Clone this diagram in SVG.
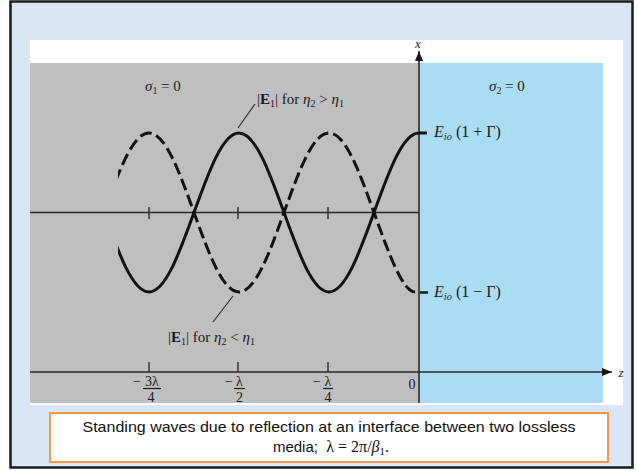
<svg xmlns="http://www.w3.org/2000/svg" width="637" height="471" viewBox="0 0 637 471">
  <style>
    .serif { font-family: "Liberation Serif", "DejaVu Serif", serif; fill: #1a1a1a; }
    .it { font-style: italic; }
    .axis { stroke: #2a2a2a; stroke-width: 1.6; fill: none; }
    .tick { stroke: #2a2a2a; stroke-width: 1.4; }
    .wave { stroke: #111; stroke-width: 3; fill: none; stroke-linecap: butt; }
    .dash { stroke-dasharray: 12 5; }
    .leader { stroke: #222; stroke-width: 1.1; }
    .cap { font-family: "Liberation Sans", "DejaVu Sans", sans-serif; font-size: 15px; fill: #111; }
  </style>
  <defs>
    <marker id="arr" viewBox="0 0 10 8" refX="10" refY="4" markerWidth="10" markerHeight="8" markerUnits="userSpaceOnUse" orient="auto">
      <path d="M0,0 L10,4 L0,8 z" fill="#1a1a1a"/>
    </marker>
    <clipPath id="waveclip">
      <rect x="118" y="100" width="320" height="220"/>
    </clipPath>
  </defs>

  <!-- slide background -->
  <rect x="0" y="0" width="637" height="471" fill="#ffffff"/>
  <rect id="frame" x="10.5" y="1.5" width="622" height="466" fill="#d9e6f4" stroke="#1c1c1c" stroke-width="2.5"/>

  <!-- figure panel -->
  <g id="panel">
    <rect x="30" y="40" width="593" height="365" fill="#ffffff"/>
    <rect id="medium1" x="30" y="63" width="389" height="340" fill="#bfbfbf"/>
    <rect id="medium2" x="419" y="63" width="184" height="340" fill="#aadcf4"/>
  </g>

  <!-- axes -->
  <g id="connectors">
    <line class="axis" x1="419" y1="403" x2="419" y2="51" marker-end="url(#arr)"/>
    <line class="axis" x1="30" y1="372" x2="612" y2="372" marker-end="url(#arr)"/>
    <line class="axis" x1="30" y1="212.5" x2="419" y2="212.5"/>
    <line class="tick" x1="149" y1="207" x2="149" y2="219"/>
    <line class="tick" x1="238" y1="207" x2="238" y2="219"/>
    <line class="tick" x1="328" y1="207" x2="328" y2="219"/>
    <line class="tick" x1="149" y1="362" x2="149" y2="372"/>
    <line class="tick" x1="238" y1="362" x2="238" y2="372"/>
    <line class="tick" x1="328" y1="362" x2="328" y2="372"/>
    <line class="leader" x1="238" y1="128" x2="255" y2="104"/>
    <line class="leader" x1="233" y1="296" x2="213" y2="322"/>
  </g>

  <!-- standing waves -->
  <g id="waves" clip-path="url(#waveclip)">
    <path id="wave-solid" class="wave" d="M104,212.5 C119.04,254.25 132.8,292 149,292 C165.2,292 178.96,254.25 194,212.5 C209.04,170.75 222.8,133 239,133 C255.2,133 268.96,170.75 284,212.5 C299.04,254.25 312.8,292 329,292 C345.2,292 358.96,254.25 374,212.5 C389.04,170.75 402.8,133 419,133 L427,133"/>
    <path id="wave-dashed" class="wave dash" d="M104,212.5 C119.04,170.75 132.8,133 149,133 C165.2,133 178.96,170.75 194,212.5 C209.04,254.25 222.8,292 239,292 C255.2,292 268.96,254.25 284,212.5 C299.04,170.75 312.8,133 329,133 C345.2,133 358.96,170.75 374,212.5 C389.04,254.25 402.8,292 415,292"/>
  </g>
  <line x1="420" y1="292.5" x2="428" y2="292.5" stroke="#111" stroke-width="2.4"/>

  <!-- labels -->
  <g id="labels" class="serif" font-size="14">
    <text x="418" y="48" text-anchor="middle" class="serif it" font-size="13">x</text>
    <text x="621" y="377" text-anchor="middle" class="serif it" font-size="13">z</text>

    <text x="145" y="91" font-size="15"><tspan class="it">σ</tspan><tspan font-size="10" dy="3">1</tspan><tspan dy="-3"> = 0</tspan></text>
    <text x="489" y="91" font-size="15"><tspan class="it">σ</tspan><tspan font-size="10" dy="3">2</tspan><tspan dy="-3"> = 0</tspan></text>

    <text x="257" y="104" font-size="15">|<tspan font-weight="bold">E</tspan><tspan font-size="10" dy="3">1</tspan><tspan dy="-3">| for </tspan><tspan class="it">η</tspan><tspan font-size="10" dy="3">2</tspan><tspan dy="-3"> &gt; </tspan><tspan class="it">η</tspan><tspan font-size="10" dy="3">1</tspan></text>
    <text x="168" y="342" font-size="15">|<tspan font-weight="bold">E</tspan><tspan font-size="10" dy="3">1</tspan><tspan dy="-3">| for </tspan><tspan class="it">η</tspan><tspan font-size="10" dy="3">2</tspan><tspan dy="-3"> &lt; </tspan><tspan class="it">η</tspan><tspan font-size="10" dy="3">1</tspan></text>

    <text x="434" y="137" font-size="16"><tspan class="it">E</tspan><tspan class="it" font-size="10.5" dy="3">io</tspan><tspan dy="-3"> (1 + Γ)</tspan></text>
    <text x="434" y="297" font-size="16"><tspan class="it">E</tspan><tspan class="it" font-size="10.5" dy="3">io</tspan><tspan dy="-3"> (1 − Γ)</tspan></text>

    <!-- z-axis tick labels -->
    <text x="137" y="386" font-size="14" text-anchor="middle">−</text>
    <text x="152" y="386" font-size="14" text-anchor="middle">3λ</text>
    <line x1="143" y1="388.5" x2="161" y2="388.5" stroke="#1a1a1a" stroke-width="1.2"/>
    <text x="151" y="402" font-size="14" text-anchor="middle">4</text>

    <text x="229" y="386" font-size="14" text-anchor="middle">−</text>
    <text x="239.5" y="386" font-size="14" text-anchor="middle">λ</text>
    <line x1="234" y1="388.5" x2="245" y2="388.5" stroke="#1a1a1a" stroke-width="1.2"/>
    <text x="239.5" y="402" font-size="14" text-anchor="middle">2</text>

    <text x="317" y="386" font-size="14" text-anchor="middle">−</text>
    <text x="328" y="386" font-size="14" text-anchor="middle">λ</text>
    <line x1="323" y1="388.5" x2="333" y2="388.5" stroke="#1a1a1a" stroke-width="1.2"/>
    <text x="328" y="402" font-size="14" text-anchor="middle">4</text>

    <text x="412" y="389" font-size="14" text-anchor="middle">0</text>
  </g>

  <!-- caption -->
  <g id="caption">
    <rect x="50" y="413" width="558" height="49" fill="#ffffff" stroke="#f79646" stroke-width="2"/>
    <text class="cap" x="329" y="432" text-anchor="middle" textLength="493" lengthAdjust="spacingAndGlyphs">Standing waves due to reflection at an interface between two lossless</text>
    <text class="cap" x="331" y="452" text-anchor="middle">media;&#160; <tspan font-family="Liberation Serif, serif" font-size="16">λ = 2π/<tspan font-style="italic">β</tspan><tspan font-size="11" dy="3">1</tspan><tspan dy="-3">.</tspan></tspan></text>
  </g>
</svg>
